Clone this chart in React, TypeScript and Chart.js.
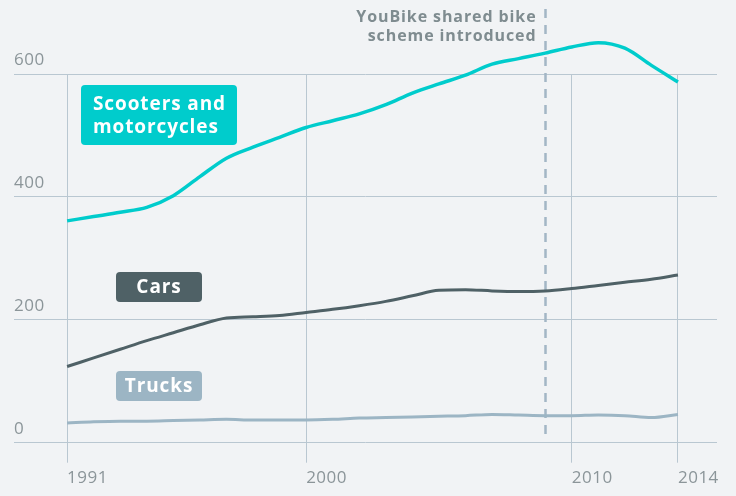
import React, { useEffect, useRef } from "react";
import { Chart, registerables } from "chart.js";

Chart.register(...registerables);

const years = [1991, 1992, 1993, 1994, 1995, 1996, 1997, 1998, 1999, 2000, 2001, 2002, 2003, 2004, 2005, 2006, 2007, 2008, 2009, 2010, 2011, 2012, 2013, 2014];
const scooters = [361, 368, 375, 383, 402, 433, 463, 481, 497, 513, 524, 535, 550, 569, 584, 598, 616, 625, 634, 644, 651, 642, 614, 587];
const cars = [124, 138, 152, 166, 179, 192, 203, 205, 207, 212, 217, 223, 230, 239, 248, 249, 247, 246, 247, 251, 256, 261, 266, 273];
const trucks = [32, 34, 35, 35, 36, 37, 38, 37, 37, 37, 38, 40, 41, 42, 43, 44, 46, 45, 44, 44, 45, 44, 41, 46];
const xTickValues = [1991, 2000, 2010, 2014];
const yTickValues = [0, 200, 400, 600];
const eventYear = 2009;
const eventLabel = ["YouBike shared bike", "scheme introduced"];
const seriesLabels = [["Scooters and", "motorcycles"], ["Cars"], ["Trucks"]];

const TEAL = "#00cccc";
const DARK = "#4f6166";
const LIGHT = "#9cb5c4";
const GRID = "#b9c7d1";
const BG = "#f1f3f5";
const TEXT = "#8b9599";

function roundRect(ctx: CanvasRenderingContext2D, x: number, y: number, w: number, h: number, r: number) {
  ctx.beginPath();
  ctx.moveTo(x + r, y);
  ctx.lineTo(x + w - r, y);
  ctx.quadraticCurveTo(x + w, y, x + w, y + r);
  ctx.lineTo(x + w, y + h - r);
  ctx.quadraticCurveTo(x + w, y + h, x + w - r, y + h);
  ctx.lineTo(x + r, y + h);
  ctx.quadraticCurveTo(x, y + h, x, y + h - r);
  ctx.lineTo(x, y + r);
  ctx.quadraticCurveTo(x, y, x + r, y);
  ctx.closePath();
}

const overlayPlugin = {
  id: "overlay",
  beforeDraw(chart: any) {
    (chart.ctx as any).letterSpacing = "0.5px";
  },
  beforeDatasetsDraw(chart: any) {
    const ctx: CanvasRenderingContext2D = chart.ctx;
    const xs = chart.scales.x;
    const px = Math.round(xs.getPixelForValue(eventYear)) + 0.5;
    ctx.save();
    ctx.strokeStyle = "#a3b6c5";
    ctx.lineWidth = 2.5;
    ctx.setLineDash([9, 7]);
    ctx.beginPath();
    ctx.moveTo(px, 9);
    ctx.lineTo(px, 441);
    ctx.stroke();
    ctx.setLineDash([]);
    ctx.fillStyle = "#7f8c90";
    ctx.font = "bold 16px 'Open Sans', sans-serif";
    (ctx as any).letterSpacing = "0.9px";
    ctx.textAlign = "right";
    ctx.textBaseline = "middle";
    ctx.fillText(eventLabel[0], px - 9, 17);
    ctx.fillText(eventLabel[1], px - 9, 36);
    ctx.restore();
  },
  afterDatasetsDraw(chart: any) {
    const ctx: CanvasRenderingContext2D = chart.ctx;
    ctx.save();
    (ctx as any).letterSpacing = "0.9px";
    ctx.font = "bold 19px 'Open Sans', sans-serif";
    ctx.textBaseline = "middle";
    ctx.textAlign = "left";
    // scooters
    ctx.fillStyle = TEAL;
    roundRect(ctx, 81, 85, 156, 60, 4);
    ctx.fill();
    ctx.fillStyle = "#ffffff";
    ctx.fillText(seriesLabels[0][0], 93, 105);
    ctx.fillText(seriesLabels[0][1], 93, 128);
    // cars
    ctx.textAlign = "center";
    ctx.fillStyle = DARK;
    roundRect(ctx, 116, 272, 86, 30, 4);
    ctx.fill();
    ctx.fillStyle = "#ffffff";
    ctx.fillText(seriesLabels[1][0], 159, 288);
    // trucks
    ctx.fillStyle = LIGHT;
    roundRect(ctx, 116, 371, 86, 30, 4);
    ctx.fill();
    ctx.fillStyle = "#ffffff";
    ctx.fillText(seriesLabels[2][0], 159, 387);
    ctx.restore();
  },
};

export default function App() {
  const ref = useRef<HTMLCanvasElement>(null);
  useEffect(() => {
    document.body.style.margin = "0";
    document.body.style.background = BG;
    const canvas = ref.current!;
    const mk = (vals: number[]) => years.map((y, i) => ({ x: y, y: vals[i] }));
    const chart = new Chart(canvas, {
      type: "line",
      data: {
        datasets: [
          { label: "Trucks", data: mk(trucks), borderColor: LIGHT, borderWidth: 3, pointRadius: 0, cubicInterpolationMode: "monotone", clip: false as any },
          { label: "Cars", data: mk(cars), borderColor: DARK, borderWidth: 3, pointRadius: 0, cubicInterpolationMode: "monotone", clip: false as any },
          { label: "Scooters and motorcycles", data: mk(scooters), borderColor: TEAL, borderWidth: 3.5, pointRadius: 0, cubicInterpolationMode: "monotone", clip: false as any },
        ],
      },
      options: {
        responsive: false,
        animation: false,
        events: [],
        layout: { padding: { top: 74, left: 14, right: 19, bottom: 2.2 } },
        plugins: { legend: { display: false }, tooltip: { enabled: false } },
        scales: {
          x: {
            type: "linear",
            min: 1989,
            max: 2015.47,
            afterBuildTicks: (s: any) => { s.ticks = xTickValues.map((v) => ({ value: v })); },
            grid: { color: GRID, lineWidth: 1, drawTicks: true, tickLength: 20, tickColor: GRID },
            border: { display: false },
            ticks: {
              align: "start",
              padding: 13,
              color: TEXT,
              font: { family: "'Open Sans', sans-serif", size: 17, lineHeight: 0.3 },
              callback: (v: any) => String(v),
              maxRotation: 0,
              autoSkip: false,
            },
          },
          y: {
            min: 0,
            max: 600,
            afterBuildTicks: (s: any) => { s.ticks = yTickValues.map((v) => ({ value: v })); },
            grid: { color: GRID, lineWidth: 1, drawTicks: false },
            border: { display: false },
            ticks: {
              mirror: true,
              padding: 0,
              labelOffset: -14,
              color: TEXT,
              font: { family: "'Open Sans', sans-serif", size: 17, lineHeight: 0.2 },
              callback: (v: any) => String(v),
            },
          },
        },
      },
      plugins: [overlayPlugin],
    } as any);
    return () => chart.destroy();
  }, []);
  return <canvas ref={ref} width={736} height={496} style={{ display: "block" }} />;
}
